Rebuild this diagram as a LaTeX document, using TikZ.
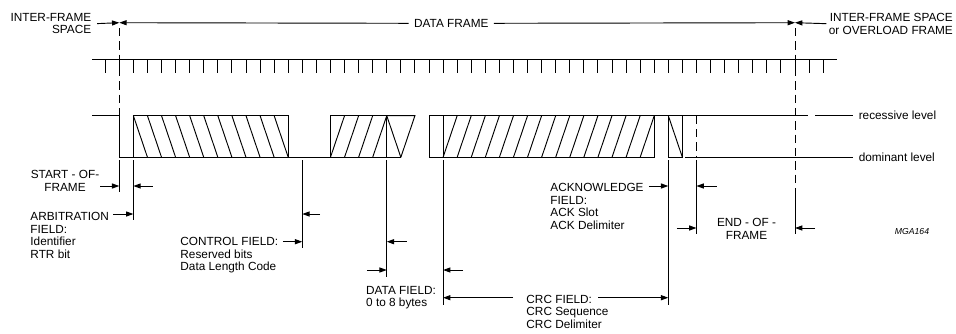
\documentclass[tikz,border=0pt]{standalone}
\usepackage{fontspec}
\setmainfont{Liberation Sans}
\usetikzlibrary{arrows.meta,calc}

\begin{document}
\begin{tikzpicture}[x=0.75pt,y=-0.75pt,line width=0.7pt]
    % --- styles ---
    \tikzstyle{dim}=[-{Triangle[length=5.5pt,width=3.8pt]}]
    \tikzstyle{guide}=[dash pattern=on 6.2pt off 3.8pt]
    \tikzstyle{lbl}=[inner sep=0pt, font=\fontsize{8.85}{9.5}\selectfont]
    \def\bx#1{119.3+14.077*(#1)}
    \def\hi{115.7}
    \def\lo{157.3}

    \useasboundingbox (0,0) rectangle (956,333);

    % ====== frame labels on top ======
    \node[lbl, anchor=north east, align=right] (ifsL) at (91.7,12.7) {INTER-FRAME\\SPACE};
    \node[lbl, inner xsep=3.8pt] (df) at (451.3,23.3) {DATA FRAME};
    \node[lbl, anchor=north east, align=right] (ifsR) at (953.3,12.7) {INTER-FRAME SPACE\\or OVERLOAD FRAME};
    \coordinate (sofT) at ({\bx0},22.7);
    \coordinate (eofT) at ({\bx{48}},22.7);
    \draw[dim] ([xshift=4pt]ifsL.east) -- (sofT);
    \draw[dim] (df.west) -- (sofT);
    \draw[dim] (df.east) -- (eofT);
    \draw[dim] ([xshift=-1.5pt]ifsR.west) -- (eofT);

    % ====== bit clock ======
    \draw (92,59.3) -- (836.7,59.3);
    \foreach \k in {-1,...,50}
        \draw ({\bx{\k}},59.3) -- ({\bx{\k}},73.3);

    % ====== bit stream ======
    \draw (92,\hi) -- ({\bx0},\hi) -- ({\bx0},\lo) -- ({\bx{20}},\lo);
    % arbitration
    \draw ({\bx1},\lo) rectangle ({\bx{12}},\hi);
    \foreach \k in {1,...,11}
        \draw ({\bx{\k}},\hi) -- ({\bx{\k+1}},\lo);
    % data
    \draw ({\bx{15}},\lo) rectangle ({\bx{19}},\hi);
    \foreach \k in {15,...,18}
        \draw ({\bx{\k}},\lo) -- ({\bx{\k+1}},\hi);
    \draw ({\bx{19}},\hi) -- ({\bx{21}},\hi) -- ({\bx{20}},\lo);
    \draw ({\bx{19}},\hi) -- ({\bx{20}},\lo);
    % crc
    \draw ({\bx{22}},\lo) rectangle ({\bx{38}},\hi);
    \draw ({\bx{23}},\lo) -- ({\bx{23}},\hi);
    \foreach \k in {23,...,37}
        \draw ({\bx{\k}},\lo) -- ({\bx{\k+1}},\hi);
    \draw ({\bx{38}},\hi) -- (808,\hi);
    % ack slot
    \draw ({\bx{39}},\hi) -- ({\bx{39}},\lo) -- ({\bx{40}},\lo) -- ({\bx{40}},\hi);
    \draw ({\bx{39}},\hi) -- ({\bx{40}},\lo);

    % levels
    \node[lbl, anchor=west] (rec) at (858.3,\hi) {recessive level};
    \node[lbl, anchor=west] (dom) at (858.3,\lo) {dominant level};
    \draw (815,\hi) -- ([xshift=-4pt]rec.west);
    \draw (685,\lo) -- ([xshift=-4pt]dom.west);

    % ====== field boundaries ======
    \draw[guide] ({\bx0},28) -- ({\bx0},\hi);
    \draw[guide] ({\bx{41}},\hi) -- ({\bx{41}},\lo);
    \draw[guide] ({\bx{48}},28) -- ({\bx{48}},196);
    \draw ({\bx0},160) -- ({\bx0},192);
    \draw ({\bx1},160) -- ({\bx1},220);
    \draw ({\bx{13}},160) -- ({\bx{13}},248);
    \draw ({\bx{19}},160) -- ({\bx{19}},277);
    \draw ({\bx{23}},160) -- ({\bx{23}},305);
    \draw ({\bx{39}},160) -- ({\bx{39}},305);
    \draw ({\bx{41}},160) -- ({\bx{41}},234);
    \draw ({\bx{48}},196) -- ({\bx{48}},234);

    \coordinate (sofL) at ({\bx0},186);
    \coordinate (sofR) at ({\bx1},186);
    \coordinate (arbL) at ({\bx1},214);
    \coordinate (arbR) at ({\bx{13}},214);
    \coordinate (ctlL) at ({\bx{13}},241.7);
    \coordinate (ctlR) at ({\bx{19}},241.7);
    \coordinate (datL) at ({\bx{19}},270);
    \coordinate (datR) at ({\bx{23}},270);
    \coordinate (crcL) at ({\bx{23}},297.7);
    \coordinate (crcR) at ({\bx{39}},297.7);
    \coordinate (ackL) at ({\bx{39}},186);
    \coordinate (ackR) at ({\bx{41}},186);
    \coordinate (eofL) at ({\bx{41}},228);
    \coordinate (eofR) at ({\bx{48}},228);

    % ====== field labels ======
    \node[lbl, anchor=north, align=center] (sof) at (65,170) {START - OF-\\FRAME};
    \node[lbl, anchor=north west, align=left] (arb) at (30,211.7) {ARBITRATION\\FIELD:\\Identifier\\RTR bit};
    \node[lbl, anchor=north west, align=left] (ctl) at (180,236.7) {CONTROL FIELD:\\Reserved bits\\Data Length Code};
    \node[lbl, anchor=north west, align=left] (dat) at (365.7,285.7) {DATA FIELD:\\0 to 8 bytes};
    \node[lbl, anchor=north west, align=left] (crc) at (526,294.3) {CRC FIELD:\\CRC Sequence\\CRC Delimiter};
    \node[lbl, anchor=north west, align=left] (ack) at (550,182.7) {ACKNOWLEDGE\\FIELD:\\ACK Slot\\ACK Delimiter};
    \node[lbl, anchor=north, align=center] (eof) at (746.5,217.7) {END - OF -\\FRAME};
    \node[inner sep=0pt, font=\fontsize{6.5}{7}\selectfont\itshape] (mga) at (912,232) {MGA164};

    % dimension arrows
    \draw[dim] ($(sofL)+(-19.3,0)$) -- (sofL);
    \draw[dim] ($(sofR)+(19.6,0)$) -- (sofR);
    \draw[dim] ($(arbL)+(-20,0)$) -- (arbL);
    \draw[dim] ($(arbR)+(17.7,0)$) -- (arbR);
    \draw[dim] ($(ctlL)+(-19.5,0)$) -- (ctlL);
    \draw[dim] ($(ctlR)+(20,0)$) -- (ctlR);
    \draw[dim] ($(datL)+(-20,0)$) -- (datL);
    \draw[dim] ($(datR)+(20,0)$) -- (datR);
    \draw[dim] ($(crcL)+(70,0)$) -- (crcL);
    \draw[dim] ($(crcR)+(-70.3,0)$) -- (crcR);
    \draw[dim] ($(ackL)+(-19.5,0)$) -- (ackL);
    \draw[dim] ($(ackR)+(20.5,0)$) -- (ackR);
    \draw[dim] ($(eofL)+(-19.5,0)$) -- (eofL);
    \draw[dim] ($(eofR)+(20,0)$) -- (eofR);
\end{tikzpicture}
\end{document}
